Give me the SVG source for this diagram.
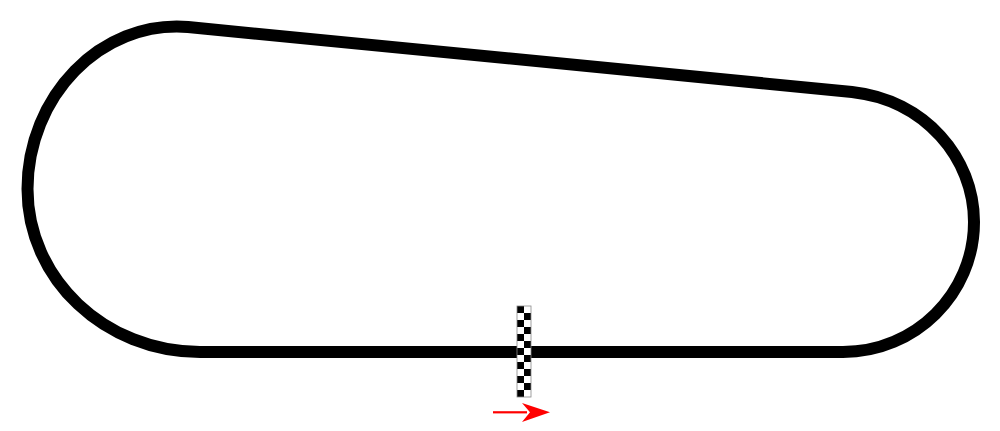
<svg xmlns="http://www.w3.org/2000/svg" width="1000" height="431" viewBox="0 0 1000 431">
<defs>
<style>
.track{fill:none;stroke:#000;stroke-width:12;stroke-linejoin:round}
.arrow{fill:#ff0000;stroke:none}
</style>
<pattern id="chk" x="517" y="306" width="14" height="14" patternUnits="userSpaceOnUse">
<rect width="14" height="14" fill="#fff"/>
<rect width="7" height="7" fill="#000"/>
<rect x="7" y="7" width="7" height="7" fill="#000"/>
</pattern>
</defs>
<rect width="1000" height="431" fill="#fff"/>
<g id="connectors">
<path id="track" class="track" d="M 188 27 L 852 92 C 925 100 974 158 974 222 C 974 294 915 352 843 352 L 200 352 C 105 352 27.5 279 27.5 189 C 27.5 97 100 20 188 27 Z"/>
</g>
<g id="start-finish">
<rect x="517" y="306" width="14" height="91" fill="url(#chk)" stroke="#888" stroke-width="0.8"/>
</g>
<g id="direction-arrow">
<rect class="arrow" x="493" y="411.2" width="34" height="2.2"/>
<path class="arrow" d="M 550 412.3 L 522 403 L 530 412.3 L 522 422 Z"/>
</g>
</svg>
